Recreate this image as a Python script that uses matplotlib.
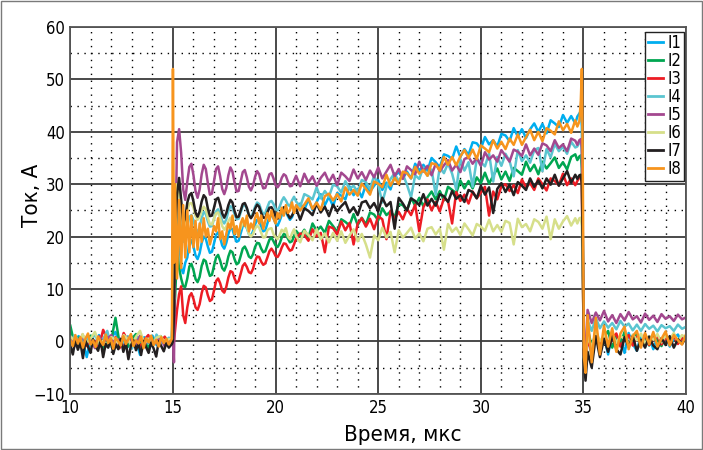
import numpy as np
import matplotlib
matplotlib.use('Agg')
import matplotlib.pyplot as plt
from matplotlib import font_manager
from matplotlib.patches import Rectangle

# --- data: currents I1..I8 (A) vs time (us) ---
labels = ['I1', 'I2', 'I3', 'I4', 'I5', 'I6', 'I7', 'I8']
colors = ['#00aeef', '#00a651', '#ed1c24', '#5bc5d0', '#a3488f', '#d6df8a', '#231f20', '#f7941d']

# quiet part, 10 .. 14.8 us
i1_pre = [0.5, -0.8, 1.0, 0.2, -3.0, 0.6, -0.5, 1.2, 0.0, -0.9, 0.7, 1.8, -0.4, 0.3, -1.1, 0.9, 0.1, -2.6, 0.8, -0.3, 1.1, -0.7, 0.4, -0.2, 0.6]
i2_pre = [3.0, -0.5, 0.7, -1.2, 0.4, 1.1, -0.6, 0.2, -1.5, 0.9, 0.3, 4.5, -0.4, 0.8, -1.0, 0.5, 1.4, -0.7, 0.2, -1.3, 0.6, 0.0, 1.0, -0.5, 0.3]
i3_pre = [0.2, 0.9, -0.6, 1.3, -0.9, 0.4, 0.0, -1.1, 2.2, 0.5, -0.4, 0.8, -1.3, 1.6, 0.1, -0.6, 0.7, -1.0, 0.3, 1.2, -0.8, 0.5, -0.2, 0.9, -0.4]
i4_pre = [-0.4, 1.1, 0.3, -0.9, 0.8, -0.2, 1.5, -0.7, 0.4, 2.0, -1.1, 0.6, 0.1, -0.5, 1.0, -1.4, 0.5, 0.9, -0.3, 0.2, -0.9, 1.3, 0.0, -0.6, 0.7]
i5_pre = [0.6, -1.0, 0.3, 0.9, -0.5, 0.2, -1.3, 1.0, -0.2, 0.5, 1.2, -0.8, 0.4, -1.1, 0.7, 0.0, -0.6, 1.1, -0.9, 0.6, 0.2, -0.4, 0.8, -1.0, 0.3]
i6_pre = [0.9, 0.2, -0.7, 1.4, -0.3, 0.6, 1.8, -0.5, 0.1, -1.0, 0.8, 0.3, -0.6, 1.2, 0.4, -0.8, 0.9, 2.0, -0.4, 0.5, -0.9, 0.7, 1.0, -0.2, 0.4]
i7_pre = [-0.8, -2.5, 0.3, -1.6, -0.2, -3.2, 0.1, -1.0, -2.2, 0.4, -0.9, -1.8, 0.2, -3.0, -0.5, -1.2, 0.3, -2.4, -0.6, -1.5,
          0.5, -2.0, -0.3, -3.4, -0.8, 0.2, -1.7, -0.4, -2.6, 0.1, -1.1, -2.2, -0.2, -1.4, -2.9, 0.0, -0.9, -1.9, -0.3, -1.2]
i8_pre = [0.3, -0.9, 1.2, -0.4, 0.8, -1.2, 0.5, 1.5, -0.6, 0.2, -1.1, 0.9, 0.1, -0.7, 1.3, -0.3, 0.6, -1.4, 0.7, 0.0,
          -0.8, 1.0, -0.5, 0.4, 1.4, -0.9, 0.2, -0.4, 0.9, -1.3, 0.6, -0.2, 1.1, -0.7, 0.3, -1.0, 0.8, -0.3, 0.5, -0.6]

# switch-on and ringing: 14.95, 15.0, 15.05, then 15.1 .. 21.0 us
i1_osc = [0.3, 8, 4, 17, 25, 20, 14, 13, 15, 16, 18.9, 19.3, 18.1, 16.4, 15.7, 16.8, 18.8, 20.0, 19.6, 18.1, 16.9, 17.1, 18.7,
          20.3, 20.8, 19.8, 18.3, 17.7, 18.8, 20.5, 21.6, 21.4, 20.0, 19.0, 19.2, 20.6, 22.0, 22.4, 21.6, 20.5, 20.1, 21.0,
          22.3, 23.2, 23.0, 21.9, 21.0, 21.2, 22.5, 23.8, 24.1, 23.5, 22.5, 22.1, 23.0, 24.1, 24.9, 24.7, 23.9, 23.2, 23.7, 24.8, 25.8]
i2_osc = [0.2, 6, 3, 8, 17, 14, 12, 10.5, 10.4, 12, 14.3, 14.8, 13.6, 11.9, 11.3, 12.3, 14.4, 15.6, 15.3, 13.7, 12.5, 12.7, 14.4,
          16.0, 16.5, 15.4, 14.0, 13.5, 14.5, 16.2, 17.3, 17.0, 15.7, 14.7, 15.0, 16.3, 17.7, 18.1, 17.3, 16.2, 15.9, 16.6,
          18.0, 18.8, 18.7, 17.7, 17.0, 17.2, 18.3, 19.4, 19.8, 19.1, 18.3, 18.0, 18.7, 19.8, 20.5, 20.3, 19.6, 18.9, 19.1, 20.1, 21.1]
i3_osc = [0.1, 3, 0, 2, 6, 9, 10.5, 5, 3.5, 6.5, 8.6, 9.2, 8.1, 6.5, 6.0, 7.1, 9.2, 10.6, 10.3, 8.8, 7.7, 8.0, 9.7,
          11.5, 12.0, 11.1, 9.7, 9.3, 10.4, 12.2, 13.4, 13.2, 12.0, 11.1, 11.5, 12.9, 14.4, 14.9, 14.2, 13.2, 13.0, 13.8,
          15.3, 16.2, 16.1, 15.2, 14.6, 14.9, 16.0, 17.2, 17.7, 17.1, 16.3, 16.1, 16.8, 17.9, 18.7, 18.6, 17.9, 17.3, 17.5, 18.5, 19.6]
i4_osc = [0.4, 10, 6, 20, 27, 24, 22, 19, 20, 22, 23.8, 24.1, 23.1, 21.5, 20.8, 21.8, 23.6, 24.7, 24.3, 22.9, 21.9, 22.0, 23.4,
          24.8, 25.2, 24.3, 23.0, 22.5, 23.3, 24.9, 25.8, 25.5, 24.3, 23.3, 23.4, 24.6, 25.8, 26.1, 25.3, 24.1, 23.7, 24.5,
          25.7, 26.5, 26.2, 25.1, 24.3, 24.5, 25.6, 26.6, 26.8, 26.2, 25.2, 25.0, 25.7, 26.8, 27.5, 26.9, 26.1, 25.8, 26.9, 27.6, 26.7]
i5_osc = [0.2, 1, -4, 15, 38, 40.5, 36, 29, 27, 30.5, 33.3, 33.9, 31.7, 28.7, 27.4, 29.0, 31.9, 33.7, 32.9, 30.2, 28.0, 28.2, 30.5,
          32.9, 33.4, 31.5, 29.1, 28.1, 29.3, 31.7, 33.2, 32.4, 30.3, 28.6, 28.7, 30.5, 32.3, 32.7, 31.3, 29.5, 28.8, 29.7,
          31.4, 32.5, 31.9, 30.4, 29.2, 29.3, 30.6, 31.9, 32.1, 31.1, 29.8, 29.4, 30.0, 31.2, 31.9, 31.6, 30.5, 29.6, 29.7, 30.7, 31.6]
i6_osc = [0.5, 12, 8, 22, 30, 28, 25, 22, 23, 25, 26.3, 26.4, 25.5, 23.9, 23.2, 23.7, 25.0, 25.7, 25.2, 23.6, 22.4, 22.3, 23.4,
          24.4, 24.6, 23.4, 22.0, 21.3, 21.9, 22.9, 23.6, 23.1, 21.8, 20.7, 20.7, 21.6, 22.6, 22.7, 21.8, 20.5, 20.0, 20.5,
          21.5, 22.1, 21.7, 20.7, 19.8, 19.9, 21.2, 21.5, 21.6, 20.4, 19.9, 19.5, 20.3, 21.3, 20.9, 21.6, 20.0, 19.5, 20.6, 21.4, 20.1]
i7_osc = [-0.5, 0, 5, 18, 28, 31.2, 27, 22.5, 23.5, 26.5, 27.9, 28.3, 26.7, 24.6, 23.8, 24.8, 26.7, 27.9, 27.4, 25.4, 23.9, 24.0, 25.5,
          27.1, 27.4, 26.1, 24.4, 23.6, 24.5, 26.0, 27.0, 26.5, 24.9, 23.7, 23.8, 25.0, 26.2, 26.4, 25.5, 24.1, 23.5, 24.1,
          25.3, 26.1, 25.7, 24.5, 23.6, 23.6, 24.6, 25.5, 25.6, 24.9, 23.8, 23.4, 24.0, 25.0, 25.6, 25.3, 24.2, 23.5, 24.0, 24.8, 25.4]
i8_osc = [0.5, 52, 15, 30, 12, 27, 14, 26, 16, 25, 17, 24, 18, 23, 17.5, 22.5, 19, 23.5, 20, 21.5, 18.5, 20, 22,
          21, 23.5, 19.5, 21, 18.5, 20.5, 22.5, 21.5, 24, 20.5, 22, 20, 22.5, 23.5, 22, 24, 21, 22.5, 21.5,
          23.5, 24.5, 22.5, 24, 21.5, 23, 24.5, 23, 25, 23.5, 22.5, 24.5, 23.5, 25.5, 24, 26, 24.5, 25, 26.5, 24.5, 26]

# slow rise, 21.2 .. 34.6 us
i1_ramp = [26.3, 25.1, 27.1, 25.1, 26.6, 28.1, 26.0, 27.6, 25.8, 28.3, 27.8, 27.1, 29.6, 27.9, 29.1, 27.5, 29.9, 28.6, 29.7, 30.8,
           28.9, 30.3, 29.0, 31.6, 32.3, 31.1, 32.4, 31.1, 33.9, 32.6, 33.7, 32.6, 35.0, 34.2, 33.2, 35.7, 35.4, 34.8, 37.2, 35.2,
           36.7, 35.6, 38.0, 37.8, 36.8, 39.0, 37.6, 38.4, 37.2, 39.6, 39.3, 38.2, 40.7, 39.1, 40.5, 38.8, 40.5, 41.6, 40.0, 41.5,
           39.7, 42.2, 41.6, 40.9, 43.2, 41.7, 43.0, 41.6]
i2_ramp = [20.1, 21.3, 19.8, 22.5, 21.1, 21.9, 20.7, 23.0, 22.0, 20.9, 23.3, 22.8, 22.1, 24.3, 22.2, 23.6, 22.3, 24.6, 24.2, 23.1,
           25.4, 24.1, 24.8, 23.7, 26.2, 26.0, 24.9, 27.4, 25.9, 27.4, 25.8, 27.5, 28.6, 27.1, 28.7, 26.9, 29.5, 28.9, 28.3, 30.7,
           29.2, 30.6, 29.2, 31.3, 30.2, 32.2, 30.1, 31.6, 33.0, 30.9, 32.4, 30.6, 33.1, 32.5, 31.8, 34.3, 32.5, 33.7, 31.9, 34.3,
           33.0, 34.0, 35.1, 33.1, 34.2, 32.8, 35.2, 35.7]
i3_ramp = [20.6, 20.3, 19.2, 21.4, 20.0, 20.7, 17.0, 21.9, 21.6, 20.4, 22.9, 21.2, 22.6, 18.5, 22.5, 23.5, 21.9, 23.4, 21.4, 23.9,
           23.3, 19.5, 24.9, 23.4, 24.7, 23.3, 25.3, 24.1, 26.1, 21.0, 25.6, 27.1, 25.0, 26.6, 24.8, 27.3, 26.8, 22.5, 28.5, 26.8,
           28.0, 26.3, 28.6, 27.3, 28.4, 29.5, 24.0, 28.6, 27.1, 29.6, 30.0, 28.7, 29.8, 28.3, 30.9, 29.4, 30.2, 28.9, 31.1, 30.0,
           28.8, 31.1, 30.6, 29.8, 32.0, 29.8, 31.1, 29.8]
i4_ramp = [25.7, 28.1, 27.7, 27.1, 29.4, 27.3, 28.7, 27.6, 29.9, 29.6, 28.4, 30.6, 29.1, 29.7, 28.5, 30.8, 30.4, 29.1, 31.6, 29.9,
           26.5, 29.5, 31.0, 32.1, 30.4, 31.9, 29.9, 27.5, 31.7, 31.0, 33.2, 31.6, 32.8, 28.0, 33.3, 32.1, 34.0, 32.0, 29.0, 34.8,
           32.6, 34.2, 29.5, 34.8, 34.2, 33.4, 35.9, 30.5, 35.2, 33.5, 35.8, 34.4, 31.5, 36.5, 34.4, 35.5, 34.1, 36.5, 36.9, 32.5,
           36.7, 35.1, 37.7, 36.3, 37.1, 35.8, 38.1, 37.0]
i5_ramp = [29.6, 32.0, 30.3, 31.5, 29.7, 31.2, 32.2, 30.4, 31.8, 29.8, 32.2, 31.5, 30.6, 32.8, 31.1, 32.3, 30.8, 32.6, 31.3, 33.2,
           31.1, 32.4, 33.7, 31.5, 32.9, 31.0, 33.4, 32.7, 31.9, 34.3, 32.4, 33.5, 31.7, 33.9, 32.5, 33.6, 34.6, 32.6, 33.7, 32.3,
           34.8, 35.2, 33.9, 35.0, 33.5, 36.1, 34.7, 35.5, 34.3, 36.5, 35.4, 34.3, 36.6, 36.2, 35.4, 37.6, 35.5, 36.8, 35.6, 37.8,
           37.4, 36.3, 38.4, 36.9, 37.6, 36.3, 38.7, 38.3]
i6_ramp = [18.9, 21.1, 20.3, 19.3, 21.4, 19.5, 20.6, 18.9, 20.7, 19.2, 21.0, 18.8, 20.2, 21.4, 19.1, 20.5, 18.5, 16.0, 20.2, 19.3,
           21.7, 19.8, 20.9, 17.0, 21.2, 19.8, 20.7, 21.7, 19.6, 20.6, 19.1, 21.5, 21.8, 20.4, 21.5, 17.5, 22.4, 20.9, 21.7, 20.3,
           22.5, 21.4, 20.2, 22.4, 21.9, 21.1, 23.2, 21.0, 22.2, 20.9, 23.0, 22.6, 18.5, 23.4, 21.8, 22.4, 21.0, 23.3, 22.8, 21.5,
           23.8, 19.5, 23.3, 21.5, 22.9, 23.9, 22.1, 23.5]
i7_ramp = [23.2, 25.4, 24.9, 24.1, 26.3, 24.6, 25.7, 23.9, 26.1, 24.8, 25.8, 26.6, 24.6, 25.6, 24.1, 26.5, 26.8, 25.4, 26.4, 24.8,
           27.4, 25.8, 26.6, 21.5, 27.4, 26.3, 25.0, 27.3, 26.8, 26.0, 28.1, 25.9, 27.2, 25.9, 28.1, 27.7, 26.6, 28.7, 27.2, 27.9,
           26.6, 28.9, 28.5, 27.3, 29.7, 28.0, 29.4, 24.5, 29.1, 30.2, 28.5, 29.9, 27.9, 30.4, 29.7, 28.9, 31.1, 29.5, 30.7, 29.2,
           31.1, 29.9, 31.8, 29.7, 31.1, 32.5, 30.3, 31.8]
i8_ramp = [25.0, 26.1, 27.3, 25.3, 26.5, 25.1, 27.7, 28.2, 26.9, 28.1, 26.7, 29.4, 28.0, 28.9, 27.8, 30.1, 29.1, 28.0, 30.5, 30.1,
           29.4, 31.8, 29.7, 31.2, 30.0, 32.4, 32.1, 31.1, 33.3, 32.0, 32.7, 31.6, 34.0, 33.8, 32.6, 35.2, 33.7, 35.2, 33.6, 35.3,
           36.5, 35.0, 36.6, 34.8, 37.4, 36.8, 36.1, 38.4, 36.8, 38.1, 36.7, 38.7, 37.5, 39.5, 37.5, 39.0, 40.4, 38.4, 40.0, 38.2,
           40.7, 40.2, 39.5, 42.0, 40.3, 41.5, 39.8, 42.2]

# switch-off (34.7 .. 35.1 us) and ringing to 40 us
i1_end = [42.9, 43.5, 44.0, 41.0, 20.0, -3.0, -5.0,
          1.5, -3.0, 2.0, -1.5, 1.0, -2.5, 1.8, -1.0, 0.5, -2.2, 1.6, -0.5, -1.8, 1.2, -0.8, 1.0, -1.5, 0.8, -0.3, 1.2, -1.0, 0.6, 1.3, -0.4, 0.9]
i2_end = [34.6, 35.3, 35.5, 33.0, 15.0, -2.0, -4.0,
          2.5, -1.0, 1.5, -2.0, 0.8, 2.0, -1.2, 1.0, -0.5, 1.8, -1.0, 0.7, 1.5, -0.6, 0.9, -0.8, 1.3, 0.2, -0.9, 1.1, 0.0, 1.4, -0.3, 0.8, 0.3]
i3_end = [30.6, 31.3, 31.5, 30.0, 12.0, -2.5, -5.0,
          0.5, -2.0, 1.8, -0.5, 1.0, -1.5, 0.6, 1.5, -1.0, 0.4, 1.2, -0.8, 0.9, -0.4, 1.3, -0.7, 0.5, 1.0, -0.6, 0.8, -0.2, 1.1, -0.5, 0.6, 0.2]
i4_end = [37.2, 38.0, 38.2, 36.0, 17.0, -1.0, -3.0,
          4.0, 2.0, 4.5, 2.5, 3.8, 2.6, 3.5, 2.3, 3.9, 2.8, 3.4, 2.1, 3.2, 2.0, 3.3, 2.4, 3.0, 1.9, 3.1, 2.5, 2.9, 2.0, 3.2, 2.4, 2.8]
i5_end = [37.5, 38.4, 38.6, 37.0, 18.0, 0.0, -2.0,
          6.0, 3.5, 5.5, 4.0, 5.8, 3.8, 5.0, 3.5, 5.2, 4.0, 5.6, 4.2, 4.8, 3.6, 5.3, 4.1, 4.9, 3.7, 5.2, 4.3, 4.8, 3.9, 5.1, 4.2, 4.6]
i6_end = [22.5, 23.5, 23.6, 22.0, 10.0, -1.0, -3.5,
          1.0, -1.2, 2.0, 0.0, 1.2, -0.8, 1.5, -0.3, 1.0, 0.5, -0.7, 1.3, 0.2, 1.5, -0.5, 1.0, 0.3, 1.4, -0.2, 1.1, 0.4, 1.6, 0.0, 1.2, 0.6]
i7_end = [31.0, 31.7, 31.8, 30.0, 14.0, -4.0, -7.5,
          -2.0, -5.0, 1.0, -3.0, 0.5, -2.0, 1.2, -1.5, -2.5, 0.8, -1.0, 1.0, -1.8, 0.3, -1.2, 0.9, -0.8, -1.5, 0.6, -0.7, 1.0, -1.2, 0.4, -0.5, 0.8]
i8_end = [41.0, 42.0, 46.0, 52.0, 30.0, -3.0, -6.0,
          5.0, -4.0, 4.5, -2.5, 3.0, -1.0, 2.5, -2.0, 1.5, 2.8, -1.5, 1.0, 2.0, -1.2, 1.6, -0.5, 1.8, -1.0, 0.5, 1.9, -0.8, 1.2, 0.2, -0.6, 1.4]

series = [
    (i1_pre, i1_osc, i1_ramp, i1_end),
    (i2_pre, i2_osc, i2_ramp, i2_end),
    (i3_pre, i3_osc, i3_ramp, i3_end),
    (i4_pre, i4_osc, i4_ramp, i4_end),
    (i5_pre, i5_osc, i5_ramp, i5_end),
    (i6_pre, i6_osc, i6_ramp, i6_end),
    (i7_pre, i7_osc, i7_ramp, i7_end),
    (i8_pre, i8_osc, i8_ramp, i8_end),
]

jump_t = [14.95, 15.0, 15.05]
fall_t = [34.7, 34.8, 34.87, 34.92, 34.97, 35.02, 35.1]


def time_axis(pre, osc, ramp, end):
    return np.concatenate([
        np.linspace(10.0, 14.8, len(pre)),
        jump_t, np.linspace(15.1, 21.0, len(osc) - len(jump_t)),
        np.linspace(21.2, 34.6, len(ramp)),
        fall_t, np.linspace(35.2, 40.0, len(end) - len(fall_t)),
    ])


# --- fonts: the original uses a narrow face ---
fonts = font_manager.fontManager.ttflist
names = {f.name for f in fonts}
narrow = [f for f in fonts if f.name == 'DejaVu Sans' and f.stretch in ('condensed', 500, 'semi-condensed')]
if 'Liberation Sans Narrow' in names:
    plt.rcParams['font.family'] = ['Liberation Sans Narrow', 'DejaVu Sans']
elif narrow:
    plt.rcParams['font.family'] = ['DejaVu Sans']
    plt.rcParams['font.stretch'] = 'condensed'
else:
    plt.rcParams['font.family'] = ['Liberation Sans', 'DejaVu Sans']

fig = plt.figure(figsize=(7.03, 4.5), dpi=100)
ax = fig.add_axes([0.100, 0.125, 0.876, 0.815])

for (pre, osc, ramp, end), lab, col in zip(series, labels, colors):
    t = time_axis(pre, osc, ramp, end)
    y = np.concatenate([pre, osc, ramp, end])
    ax.plot(t, y, color=col, lw=1.8, label=lab)

ax.set_xlim(10, 40)
ax.set_ylim(-10, 60)
ax.set_xticks(range(10, 41, 5))
ax.set_xticks(range(10, 41), minor=True)
ax.set_yticks(range(-10, 61, 10))
ax.set_yticks(range(-10, 61, 5), minor=True)
ax.set_axisbelow(True)
ax.grid(which='major', color='#3c3c3c', lw=1.3, ls='-')
ax.grid(which='minor', color='black', lw=1.0, ls=(0, (1, 4)))
ax.tick_params(which='both', length=0, labelsize=12, pad=4)
for s in ax.spines.values():
    s.set_color('#555555')
    s.set_linewidth(1.3)

ax.set_xlabel('Время, мкс', fontsize=16)
ax.xaxis.set_label_coords(0.54, -0.085)
ax.set_ylabel('Ток, А', fontsize=16)
ax.yaxis.set_label_coords(-0.046, 0.54)

leg = ax.legend(loc='upper right', bbox_to_anchor=(0.997, 0.987), borderaxespad=0,
                fontsize=12, handlelength=0.9, handletextpad=0.3, borderpad=0.15,
                labelspacing=0.0, fancybox=False, framealpha=1, edgecolor='#222222')
leg.get_frame().set_linewidth(1.0)
for line in leg.get_lines():
    line.set_linewidth(2.0)

fig.patches.append(Rectangle((0.002, 0.002), 0.996, 0.995, transform=fig.transFigure,
                             fill=False, edgecolor='#7a7a7a', lw=1.0))

fig.savefig('out.png', dpi=100)
